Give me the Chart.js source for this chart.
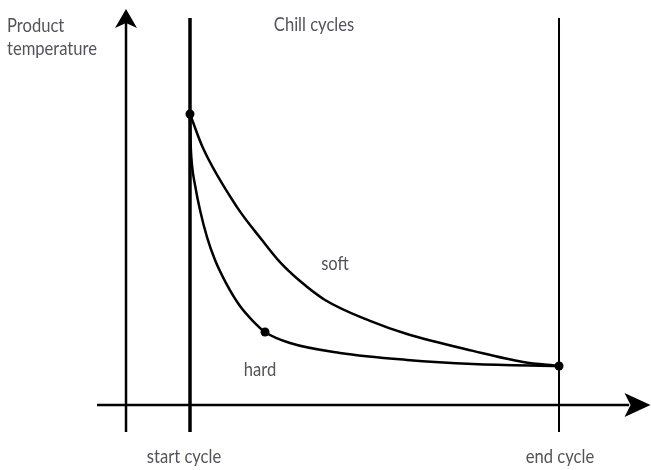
<!DOCTYPE html>
<html>
<head>
<meta charset="utf-8">
<script src="https://cdn.jsdelivr.net/npm/chart.js@4/dist/chart.umd.min.js"></script>
<style>
  html, body { margin: 0; padding: 0; background: #ffffff; }
  #wrap { width: 651px; height: 470px; position: relative; }
  canvas { display: block; }
</style>
</head>
<body>
<div id="wrap"><canvas id="c" width="651" height="470"></canvas></div>
<script>
// ---- Data (time: 0 = start cycle, 100 = end cycle; temperature: relative units) ----
const softTime = [0, 3.52, 12.74, 19.51, 24.39, 29.81, 36.59, 48.78, 58.81, 76.69, 90.24, 100];
const softTemp = [100, 88.3, 68.0, 56.7, 49.1, 42.6, 36.1, 28.9, 24.4, 18.6, 14.8, 13.4];

const hardTime = [0, 0.14, 0.54, 1.36, 2.71, 4.61, 6.78, 9.76, 13.55, 16.80, 20.33, 27.10, 40.65, 58.81, 76.69, 100];
const hardTemp = [100, 91.1, 82.5, 75.6, 67.0, 57.7, 49.8, 41.9, 34.0, 29.2, 25.1, 21.3, 17.9, 15.5, 14.1, 13.4];

const markerTime = [0, 20.33, 100];
const markerTemp = [100, 25.1, 13.4];

const cycleNames = ['start cycle', 'end cycle'];
const cycleTimes = [0, 100];

const axisTitleY = ['Product', 'temperature'];
const chartTitle = 'Chill cycles';
const curveNames = ['soft', 'hard'];

// ---- view window ----
const X_MIN = -51.49, X_MAX = 124.93;
const Y_MIN = -22.34, Y_MAX = 139.18;
const AXIS_T = -17.34;     // position of temperature axis on time scale
const LINE_BOTTOM = -9.28; // lower end of vertical lines
const LINE_TOP = 133.0;    // upper end of cycle lines
const YAXIS_TOP = 134.0;
const XAXIS_LEFT = -25.2, XAXIS_RIGHT = 119.0;

const zip = (xs, ys) => xs.map((x, i) => ({ x, y: ys[i] }));

const FONT = 'Lato, "Open Sans", "DejaVu Sans", sans-serif';
const TEXT_COLOR = '#54525a';

const decor = {
  id: 'decor',
  afterDatasetsDraw(chart) {
    const { ctx, scales: { x, y } } = chart;
    ctx.save();
    ctx.fillStyle = '#000';
    // y axis arrow (up)
    const ax = x.getPixelForValue(AXIS_T);
    const ayTip = y.getPixelForValue(136.1);
    ctx.beginPath();
    ctx.moveTo(ax, ayTip);
    ctx.lineTo(ax + 11, ayTip + 19);
    ctx.lineTo(ax, ayTip + 14);
    ctx.lineTo(ax - 11, ayTip + 19);
    ctx.closePath();
    ctx.fill();
    // x axis arrow (right)
    const bxTip = x.getPixelForValue(124.8);
    const by = y.getPixelForValue(0);
    ctx.beginPath();
    ctx.moveTo(bxTip, by);
    ctx.lineTo(bxTip - 26, by - 12);
    ctx.lineTo(bxTip - 20, by);
    ctx.lineTo(bxTip - 26, by + 12);
    ctx.closePath();
    ctx.fill();

    // texts (condensed by horizontal scaling)
    ctx.fillStyle = TEXT_COLOR;
    ctx.font = '20px ' + FONT;
    const sx = 90 / ctx.measureText(axisTitleY[1]).width;
    const put = (txt, cx, by, align) => {
      ctx.save();
      ctx.translate(cx, by);
      ctx.scale(sx, 1);
      ctx.textAlign = align;
      ctx.textBaseline = 'alphabetic';
      ctx.fillText(txt, 0, 0);
      ctx.restore();
    };
    put(axisTitleY[0], 7, 32, 'left');
    put(axisTitleY[1], 7, 55, 'left');
    put(chartTitle, 314, 31, 'center');
    put(curveNames[0], x.getPixelForValue(39.3), y.getPixelForValue(46.4), 'center');
    put(curveNames[1], x.getPixelForValue(19.0), y.getPixelForValue(10.0), 'center');
    put(cycleNames[0], x.getPixelForValue(cycleTimes[0]) - 6, 463, 'center');
    put(cycleNames[1], x.getPixelForValue(cycleTimes[1]) + 1, 463, 'center');
    ctx.restore();
  }
};

const lineDs = (data, width) => ({
  data, showLine: true, borderColor: '#000', borderWidth: width,
  pointRadius: 0, tension: 0, fill: false, borderCapStyle: 'butt'
});

new Chart(document.getElementById('c'), {
  type: 'scatter',
  data: {
    datasets: [
      lineDs([{ x: AXIS_T, y: LINE_BOTTOM }, { x: AXIS_T, y: YAXIS_TOP }], 2.5),
      lineDs([{ x: XAXIS_LEFT, y: 0 }, { x: XAXIS_RIGHT, y: 0 }], 2.5),
      lineDs([{ x: cycleTimes[0], y: LINE_BOTTOM }, { x: cycleTimes[0], y: LINE_TOP }], 3.5),
      lineDs([{ x: cycleTimes[1], y: LINE_BOTTOM }, { x: cycleTimes[1], y: LINE_TOP }], 2),
      Object.assign(lineDs(zip(softTime, softTemp), 2.5), { cubicInterpolationMode: 'monotone' }),
      Object.assign(lineDs(zip(hardTime, hardTemp), 2.5), { cubicInterpolationMode: 'monotone' }),
      {
        data: zip(markerTime, markerTemp), showLine: false,
        pointRadius: 4.5, pointBackgroundColor: '#000', pointBorderColor: '#000', pointBorderWidth: 0
      }
    ]
  },
  options: {
    responsive: false,
    devicePixelRatio: 1,
    animation: false,
    layout: { padding: 0, autoPadding: false },
    plugins: { legend: { display: false }, tooltip: { enabled: false }, title: { display: false } },
    scales: {
      x: { type: 'linear', min: X_MIN, max: X_MAX, display: false },
      y: { type: 'linear', min: Y_MIN, max: Y_MAX, display: false }
    }
  },
  plugins: [decor]
});
</script>
</body>
</html>
